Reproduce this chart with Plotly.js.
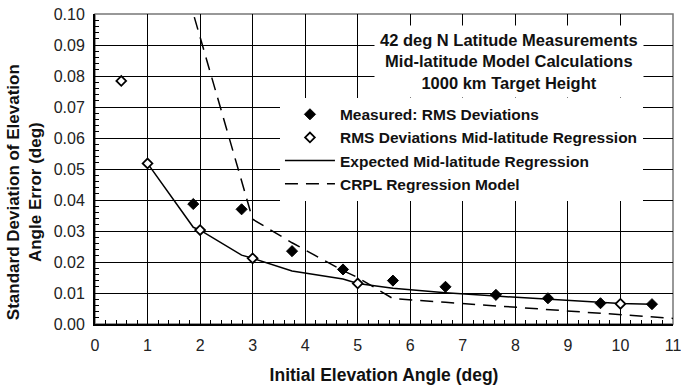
<!DOCTYPE html>
<html>
<head>
<meta charset="utf-8">
<script src="https://cdn.plot.ly/plotly-3.0.1.min.js"></script>
<style>html,body{margin:0;padding:0;background:#fff;}#chart{width:681px;height:387px;}</style>
</head>
<body>
<div id="chart"></div>
<script>
// Measured: RMS Deviations
const measuredX = [1.87, 2.79, 3.75, 4.72, 5.67, 6.67, 7.63, 8.62, 9.62, 10.6];
const measuredY = [0.0387, 0.0370, 0.0235, 0.0176, 0.0140, 0.0120, 0.0094, 0.0083, 0.0067, 0.0064];
// RMS Deviations Mid-latitude Regression
const regX = [0.5, 1.0, 2.0, 3.0, 5.0, 10.0];
const regY = [0.0784, 0.0518, 0.0303, 0.0212, 0.0131, 0.0065];
// Expected Mid-latitude Regression
const expX = [1.0, 1.87, 2.0, 2.79, 3.0, 3.75, 4.72, 5.0, 5.67, 6.67, 7.63, 8.62, 9.62, 10.0, 10.6];
const expY = [0.0518, 0.0312, 0.0303, 0.0222, 0.0212, 0.0171, 0.0145, 0.0131, 0.0115, 0.0101, 0.0090, 0.0080, 0.0070, 0.0066, 0.0064];
// CRPL Regression Model
const crplX = [1.89, 3.0, 3.75, 4.72, 5.0, 5.67, 6.67, 7.63, 8.62, 9.62, 10.6, 11.0];
const crplY = [0.0990, 0.0338, 0.0262, 0.0172, 0.0150, 0.0082, 0.0070, 0.0059, 0.0047, 0.0036, 0.0024, 0.0018];

const names = ['Measured: RMS Deviations', 'RMS Deviations Mid-latitude Regression',
               'Expected Mid-latitude Regression', 'CRPL Regression Model'];
const titleLines = ['42 deg N Latitude Measurements', 'Mid-latitude Model Calculations', '1000 km Target Height'];
const yTitle = 'Standard Deviation of Elevation<br>Angle Error (deg)';
const xTitle = 'Initial Elevation Angle (deg)';

const FONT = 'Liberation Sans, Arial, sans-serif';
const bold = s => ({family: FONT, size: s, color: '#111', weight: 'bold'});

const traces = [
  {x: expX, y: expY, mode: 'lines', name: names[2], legendrank: 3,
   line: {color: '#000', width: 1.5}},
  {x: crplX, y: crplY, mode: 'lines', name: names[3], legendrank: 4,
   line: {color: '#000', width: 1.5, dash: '13px,8px'}},
  {x: measuredX, y: measuredY, mode: 'markers', name: names[0], legendrank: 1,
   marker: {symbol: 'diamond', size: 8.5, color: '#000', line: {color: '#000', width: 1}}},
  {x: regX, y: regY, mode: 'markers', name: names[1], legendrank: 2,
   marker: {symbol: 'diamond', size: 7.5, color: '#fff', line: {color: '#000', width: 1.8}}}
];

const layout = {
  width: 681, height: 387,
  margin: {l: 95, r: 8, t: 14, b: 63},
  paper_bgcolor: '#fff', plot_bgcolor: '#fff',
  font: {family: FONT, size: 16, color: '#111'},
  showlegend: true,
  legend: {
    x: 0.32, y: 0.73, xanchor: 'left', yanchor: 'top',
    bgcolor: '#fff', borderwidth: 0,
    font: bold(15.5),
    tracegroupgap: 0, itemwidth: 50
  },
  xaxis: {
    range: [0, 11], dtick: 1, tick0: 0,
    showgrid: true, gridcolor: '#000', gridwidth: 1,
    showline: true, linecolor: '#000', linewidth: 2, mirror: false,
    zeroline: false, ticks: '', ticklabeloverflow: 'allow', ticklabelstandoff: 6,
    tickfont: {family: FONT, size: 16, color: '#222'},
    minor: {dtick: 0.2, ticks: 'inside', ticklen: 4, tickcolor: '#000', tickwidth: 1, showgrid: false},
    title: {text: xTitle, font: bold(17.5), standoff: 16}
  },
  yaxis: {
    range: [0, 0.1], dtick: 0.01, tick0: 0, tickformat: '.2f',
    showgrid: true, gridcolor: '#000', gridwidth: 1,
    showline: true, linecolor: '#000', linewidth: 2, mirror: false,
    zeroline: false, ticks: '', ticklabelstandoff: 5,
    tickfont: {family: FONT, size: 16, color: '#222'},
    minor: {dtick: 0.002, ticks: 'inside', ticklen: 4, tickcolor: '#000', tickwidth: 1, showgrid: false}
  },
  shapes: [
    {type: 'rect', xref: 'paper', yref: 'paper', x0: 0, x1: 1, y0: 0, y1: 1,
     line: {color: '#777', width: 1.5}, layer: 'below'}
  ],
  annotations: [
    {xref: 'paper', yref: 'paper', x: 0.716, y: 0.848, xanchor: 'center', yanchor: 'middle',
     text: titleLines.join('<br>'), showarrow: false, align: 'center',
     bgcolor: '#fff', borderpad: 5, font: bold(16.5)},
    {xref: 'paper', yref: 'paper', x: -0.123, y: 0.425, xanchor: 'center', yanchor: 'middle',
     text: yTitle, showarrow: false, align: 'center', textangle: -90, font: bold(17)}
  ]
};

Plotly.newPlot('chart', traces, layout, {displayModeBar: false, staticPlot: true});
</script>
</body>
</html>
